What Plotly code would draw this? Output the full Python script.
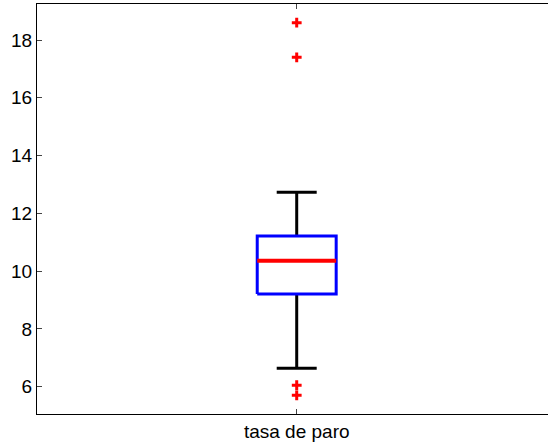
import plotly.graph_objects as go

# ---- data ----
categories = ["tasa de paro"]
q1 = [9.21]
medians = [10.36]
q3 = [11.22]
lower_whisker = [6.64]
upper_whisker = [12.73]
outliers = [[18.6, 17.4, 6.05, 5.7]]
y_ticks = [6, 8, 10, 12, 14, 16, 18]

# ---- style ----
BOX_HALF = 0.076
CAP_HALF = 0.0385
FONT = dict(family="Liberation Sans, Arial, sans-serif", size=19, color="black")

fig = go.Figure()
for i, cat in enumerate(categories):
    xc = i + 1
    # whiskers
    fig.add_trace(go.Scatter(
        x=[xc, xc, None, xc - CAP_HALF, xc + CAP_HALF, None,
           xc, xc, None, xc - CAP_HALF, xc + CAP_HALF],
        y=[q3[i], upper_whisker[i], None, upper_whisker[i], upper_whisker[i], None,
           q1[i], lower_whisker[i], None, lower_whisker[i], lower_whisker[i]],
        mode="lines", line=dict(color="black", width=3),
        hoverinfo="skip", showlegend=False))
    # box
    fig.add_trace(go.Scatter(
        x=[xc - BOX_HALF, xc + BOX_HALF, xc + BOX_HALF, xc - BOX_HALF, xc - BOX_HALF],
        y=[q1[i], q1[i], q3[i], q3[i], q1[i]],
        mode="lines", line=dict(color="blue", width=3),
        fill="toself", fillcolor="white",
        hoverinfo="skip", showlegend=False))
    # median
    fig.add_trace(go.Scatter(
        x=[xc - BOX_HALF, xc + BOX_HALF],
        y=[medians[i], medians[i]],
        mode="lines", line=dict(color="red", width=4),
        hoverinfo="skip", showlegend=False))
    # outliers
    fig.add_trace(go.Scatter(
        x=[xc] * len(outliers[i]), y=outliers[i],
        mode="markers",
        marker=dict(symbol="cross-thin", size=7, color="red",
                    line=dict(color="red", width=3)),
        hoverinfo="skip", showlegend=False))

fig.update_layout(
    width=548, height=442,
    margin=dict(l=37, r=0, t=4, b=28),
    paper_bgcolor="white", plot_bgcolor="white",
    font=FONT,
    showlegend=False,
)
fig.update_xaxes(
    range=[0.5, 1.4838],
    tickvals=list(range(1, len(categories) + 1)),
    ticktext=categories,
    showgrid=False, zeroline=False,
    showline=True, linecolor="black", linewidth=1,
    mirror="allticks",
    ticks="inside", ticklen=5, tickcolor="#444", tickwidth=1,
    tickfont=FONT,
)
fig.update_yaxes(
    range=[5.055, 19.246],
    tickvals=y_ticks,
    ticktext=[str(v) for v in y_ticks],
    showgrid=False, zeroline=False,
    showline=True, linecolor="black", linewidth=1,
    ticks="inside", ticklen=5, tickcolor="#444", tickwidth=1,
    tickfont=FONT,
)

fig.write_html(
    "out.html",
    config={"displayModeBar": False},
    post_script="document.body.style.margin='0';document.body.style.overflow='hidden';",
)
